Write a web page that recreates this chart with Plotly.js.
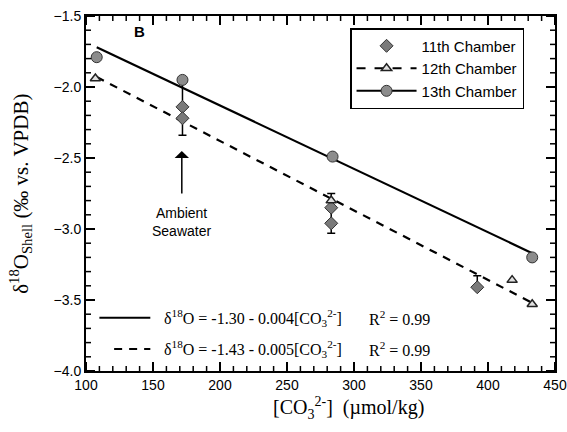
<!DOCTYPE html>
<html>
<head>
<meta charset="utf-8">
<script src="https://cdn.plot.ly/plotly-3.0.1.min.js"></script>
<style>html,body{margin:0;padding:0;background:#fff;}#chart{width:567px;height:432px;}</style>
</head>
<body>
<div id="chart"></div>
<script>
// ---- data ----
var c11_x = [172, 172, 283, 283, 392];
var c11_y = [-2.14, -2.22, -2.85, -2.96, -3.41];
var c11_err_up = [0.19, 0, 0.10, 0, 0.08];
var c11_err_dn = [0.20, 0, 0.18, 0, 0];

var c12_x = [107, 283, 418, 433];
var c12_y = [-1.94, -2.80, -3.36, -3.53];

var c13_x = [108, 172, 284, 433];
var c13_y = [-1.79, -1.95, -2.49, -3.20];

var fit13_x = [108, 433];
var fit13_y = [-1.72, -3.17];
var fit12_x = [108, 433];
var fit12_y = [-1.93, -3.52];

var legendNames = ["11th Chamber", "12th Chamber", "13th Chamber"];
var eq1 = "\u03B4<sup>18</sup>O = -1.30 - 0.004[CO<sub>3</sub><sup>2-</sup>]";
var eq2 = "\u03B4<sup>18</sup>O = -1.43 - 0.005[CO<sub>3</sub><sup>2-</sup>]";
var r2text = "R<sup>2</sup> = 0.99";
var xTitle = "[CO<sub>3</sub><sup>2-</sup>]  (\u00B5mol/kg)";
var yTitle = "\u03B4<sup>18</sup>O<sub>Shell</sub> (\u2030 vs. VPDB)";

var sans = "Liberation Sans, Arial, sans-serif";
var serif = "Liberation Serif, Times New Roman, serif";

var circleMarker = {symbol: "circle", size: 11, color: "#8c8c8c", line: {color: "#333", width: 1}};
var triMarker = {symbol: "triangle-up", size: 9, color: "#e0e0e0", line: {color: "#222", width: 1.5}};
var diaMarker = {symbol: "diamond", size: 10, color: "#7a7a7a", line: {color: "#333", width: 1}};

var traces = [
  {x: fit13_x, y: fit13_y, mode: "lines", line: {color: "#000", width: 2.2}, showlegend: false, hoverinfo: "skip"},
  {x: fit12_x, y: fit12_y, mode: "lines", line: {color: "#000", width: 2.2, dash: "8px,7px"}, showlegend: false, hoverinfo: "skip"},
  {x: c11_x, y: c11_y, mode: "markers", marker: diaMarker, showlegend: false,
   error_y: {type: "data", symmetric: false, array: c11_err_up, arrayminus: c11_err_dn, color: "#000", thickness: 1.5, width: 4}},
  {x: c12_x, y: c12_y, mode: "markers", marker: triMarker, showlegend: false},
  {x: c13_x, y: c13_y, mode: "markers", marker: circleMarker, showlegend: false},
  // legend entries
  {x: [null], y: [null], mode: "markers", marker: diaMarker, name: legendNames[0]},
  {x: [null], y: [null], mode: "lines+markers", marker: triMarker, line: {color: "#000", width: 2, dash: "dash"}, name: legendNames[1]},
  {x: [null], y: [null], mode: "lines+markers", marker: circleMarker, line: {color: "#000", width: 2}, name: legendNames[2]}
];

// legend line samples for the fit equations, plus tick marks drawn as shapes on all four sides
var shapes = [
  {type: "line", xref: "x", yref: "y", x0: 110, x1: 148, y0: -3.625, y1: -3.625, line: {color: "#000", width: 2}},
  {type: "line", xref: "x", yref: "y", x0: 121, x1: 148, y0: -3.845, y1: -3.845, line: {color: "#000", width: 2, dash: "8px,7px"}}
];
function xTick(v, len, w) {
  shapes.push({type: "line", xref: "x", yref: "paper", ysizemode: "pixel", yanchor: 0, x0: v, x1: v, y0: 0, y1: len, line: {color: "#000", width: w}});
  shapes.push({type: "line", xref: "x", yref: "paper", ysizemode: "pixel", yanchor: 1, x0: v, x1: v, y0: 0, y1: -len, line: {color: "#000", width: w}});
}
function yTick(v, len, w) {
  shapes.push({type: "line", yref: "y", xref: "paper", xsizemode: "pixel", xanchor: 0, y0: v, y1: v, x0: 0, x1: len, line: {color: "#000", width: w}});
  shapes.push({type: "line", yref: "y", xref: "paper", xsizemode: "pixel", xanchor: 1, y0: v, y1: v, x0: 0, x1: -len, line: {color: "#000", width: w}});
}
for (var i = 0; i <= 35; i++) { xTick(100 + i * 10, i % 5 === 0 ? 9 : 5, i % 5 === 0 ? 2 : 1.5); }
for (var j = 0; j <= 25; j++) { yTick(-4 + j * 0.1, j % 5 === 0 ? 9 : 5, j % 5 === 0 ? 2 : 1.5); }

var layout = {
  width: 567, height: 432,
  margin: {l: 86, r: 12, t: 16, b: 61},
  paper_bgcolor: "#fff", plot_bgcolor: "#fff",
  showlegend: true,
  legend: {x: 0.563, y: 0.966, xanchor: "left", yanchor: "top",
           bordercolor: "#000", borderwidth: 1.5, bgcolor: "#fff",
           font: {family: sans, size: 15, color: "#000"}, itemwidth: 60, tracegroupgap: 0},
  xaxis: {range: [100, 450], tick0: 100, dtick: 50, ticks: "inside", ticklen: 9, tickwidth: 2, tickcolor: "#000",
          showline: true, linewidth: 2, linecolor: "#000", mirror: "allticks", showgrid: false, zeroline: false,
          tickfont: {family: sans, size: 14, color: "#000"}},
  yaxis: {range: [-4.0, -1.5], tick0: -4, dtick: 0.5, tickformat: ".1f", ticks: "inside", ticklen: 9, tickwidth: 2, tickcolor: "#000",
          showline: true, linewidth: 2, linecolor: "#000", mirror: "allticks", showgrid: false, zeroline: false,
          tickfont: {family: sans, size: 14, color: "#000"}},
  shapes: shapes,
  annotations: [
    {x: 140, y: -1.61, xref: "x", yref: "y", text: "<b>B</b>", showarrow: false, font: {family: sans, size: 15, color: "#000"}},
    {x: 171.5, y: -2.95, xref: "x", yref: "y", text: "Ambient<br>Seawater", showarrow: false, font: {family: sans, size: 14, color: "#000"}},
    {x: 171.5, y: -2.45, xref: "x", yref: "y", ax: 171.5, ay: -2.76, axref: "x", ayref: "y", text: "", showarrow: true,
     arrowhead: 1, arrowsize: 1.6, arrowwidth: 1.5, arrowcolor: "#000"},
    {x: 156.6, y: -3.625, xref: "x", yref: "y", xanchor: "left", text: eq1, showarrow: false, font: {family: serif, size: 16, color: "#000"}},
    {x: 156.6, y: -3.845, xref: "x", yref: "y", xanchor: "left", text: eq2, showarrow: false, font: {family: serif, size: 16, color: "#000"}},
    {x: 310, y: -3.625, xref: "x", yref: "y", xanchor: "left", text: r2text, showarrow: false, font: {family: serif, size: 16, color: "#000"}},
    {x: 310, y: -3.845, xref: "x", yref: "y", xanchor: "left", text: r2text, showarrow: false, font: {family: serif, size: 16, color: "#000"}},
    {x: 0.56, y: -0.105, xref: "paper", yref: "paper", xanchor: "center", yanchor: "middle", text: xTitle, showarrow: false, font: {family: serif, size: 20, color: "#000"}},
    {x: -0.14, y: 0.5, xref: "paper", yref: "paper", xanchor: "center", yanchor: "middle", textangle: -90, text: yTitle, showarrow: false, font: {family: serif, size: 21, color: "#000"}}
  ]
};

Plotly.newPlot("chart", traces, layout, {staticPlot: true, displayModeBar: false});
</script>
</body>
</html>
